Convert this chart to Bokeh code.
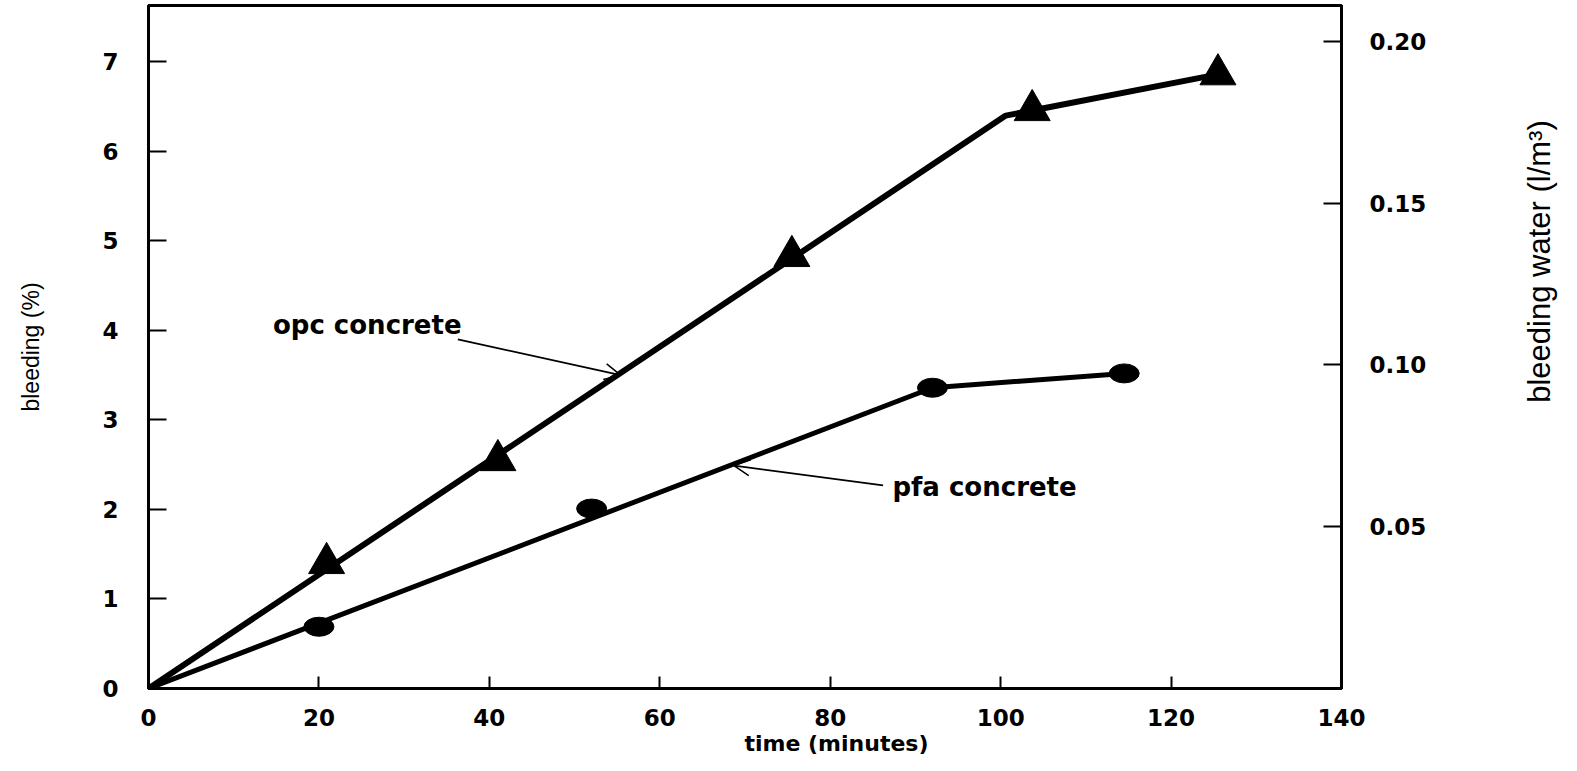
import math
from bokeh.plotting import figure
from bokeh.layouts import row
from bokeh.models import (Range1d, LinearAxis, FixedTicker, Label, Arrow,
                          OpenHead, NumeralTickFormatter, Title)
from bokeh.embed import file_html
from bokeh.resources import INLINE

# ---- data ----
x_ticks = [0, 20, 40, 60, 80, 100, 120, 140]
y_ticks = [0, 1, 2, 3, 4, 5, 6, 7]
water_ticks = [0.05, 0.10, 0.15, 0.20]

opc_time = [20.9, 41.0, 75.5, 103.7, 125.5]
opc_bleed = [1.40, 2.55, 4.83, 6.46, 6.86]
pfa_time = [20.0, 52.0, 92.0, 114.5]
pfa_bleed = [0.69, 2.01, 3.36, 3.52]

opc_fit_time = [0, 100.6, 125.5]
opc_fit_bleed = [0, 6.40, 6.86]
pfa_fit_time = [0, 92.0, 114.5]
pfa_fit_bleed = [0, 3.36, 3.52]

y_max = 7.63
water_per_percent = 0.02766

FONT = "DejaVu Sans"

p = figure(frame_width=1193, frame_height=683,
           min_border_left=148, min_border_right=110,
           min_border_top=5, min_border_bottom=67,
           x_range=Range1d(0, 140), y_range=Range1d(0, y_max),
           output_backend="svg", toolbar_location=None,
           background_fill_color="white", border_fill_color="white")
p.extra_y_ranges = {"water": Range1d(0, y_max * water_per_percent)}

p.xgrid.grid_line_color = None
p.ygrid.grid_line_color = None
p.outline_line_color = "black"
p.outline_line_width = 3

right = LinearAxis(y_range_name="water")
p.add_layout(right, "right")

for ax in [p.xaxis[0], p.yaxis[0], right]:
    ax.axis_line_color = "black"
    ax.axis_line_width = 3
    ax.major_tick_line_color = "black"
    ax.major_tick_line_width = 2
    ax.major_tick_out = 0
    ax.minor_tick_line_color = None
    ax.major_label_text_font = FONT
    ax.major_label_text_font_size = "23px"
    ax.major_label_text_font_style = "bold"
    ax.major_label_text_color = "black"

p.xaxis[0].ticker = FixedTicker(ticks=x_ticks)
p.xaxis[0].major_tick_in = 12
p.xaxis[0].major_label_standoff = 20

left = p.yaxis[0]
left.ticker = FixedTicker(ticks=y_ticks)
left.major_tick_in = 18
left.major_label_standoff = 30
left.axis_label = "bleeding (%)"
left.axis_label_text_font = "Liberation Sans"
left.axis_label_text_font_size = "23px"
left.axis_label_text_font_style = "normal"
left.axis_label_text_color = "black"
left.axis_label_standoff = 55

right.ticker = FixedTicker(ticks=water_ticks)
right.formatter = NumeralTickFormatter(format="0.00")
right.major_tick_in = 18
right.major_label_standoff = 28

# x axis title, placed right of centre as in the original
p.add_layout(Title(text="time (minutes)", align="left", offset=596,
                   text_font=FONT, text_font_size="22px",
                   text_font_style="bold", text_color="black",
                   standoff=0), "below")

# fitted lines
p.line(opc_fit_time, opc_fit_bleed, line_color="black", line_width=6,
       line_cap="round", line_join="round")
p.line(pfa_fit_time, pfa_fit_bleed, line_color="black", line_width=5,
       line_cap="round", line_join="round")

# measured points
p.scatter(opc_time, opc_bleed, marker="triangle", size=36,
          fill_color="black", line_color="black")
p.ellipse(x=pfa_time, y=pfa_bleed, width=30, height=19,
          width_units="screen", height_units="screen",
          fill_color="black", line_color="black")

# annotations
p.add_layout(Label(x=14.6, y=4.06, text="opc concrete", text_font=FONT,
                   text_font_size="26px", text_font_style="bold",
                   text_baseline="middle", text_align="left",
                   text_color="black"))
p.add_layout(Label(x=87.3, y=2.25, text="pfa concrete", text_font=FONT,
                   text_font_size="26px", text_font_style="bold",
                   text_baseline="middle", text_align="left",
                   text_color="black"))
p.add_layout(Arrow(end=OpenHead(size=16, line_width=1.5, line_color="black"),
                   x_start=36.3, y_start=3.90, x_end=55.4, y_end=3.50,
                   line_width=1.8, line_color="black"))
p.add_layout(Arrow(end=OpenHead(size=16, line_width=1.5, line_color="black"),
                   x_start=86.2, y_start=2.27, x_end=68.7, y_end=2.49,
                   line_width=1.8, line_color="black"))

# right-hand axis title in a narrow strip beside the plot
side = figure(width=110, height=755, x_range=Range1d(0, 110),
              y_range=Range1d(0, 755), min_border=0,
              output_backend="svg", toolbar_location=None,
              background_fill_color="white", border_fill_color="white")
side.axis.visible = False
side.grid.visible = False
side.outline_line_color = None
side.add_layout(Label(x=88, y=472, text="bleeding water (l/m³)",
                      text_font="Liberation Sans", text_font_size="31px",
                      text_baseline="middle", text_align="center",
                      angle=math.pi / 2, text_color="black"))

layout = row(p, side)
open("out.html", "w").write(file_html(layout, INLINE))
